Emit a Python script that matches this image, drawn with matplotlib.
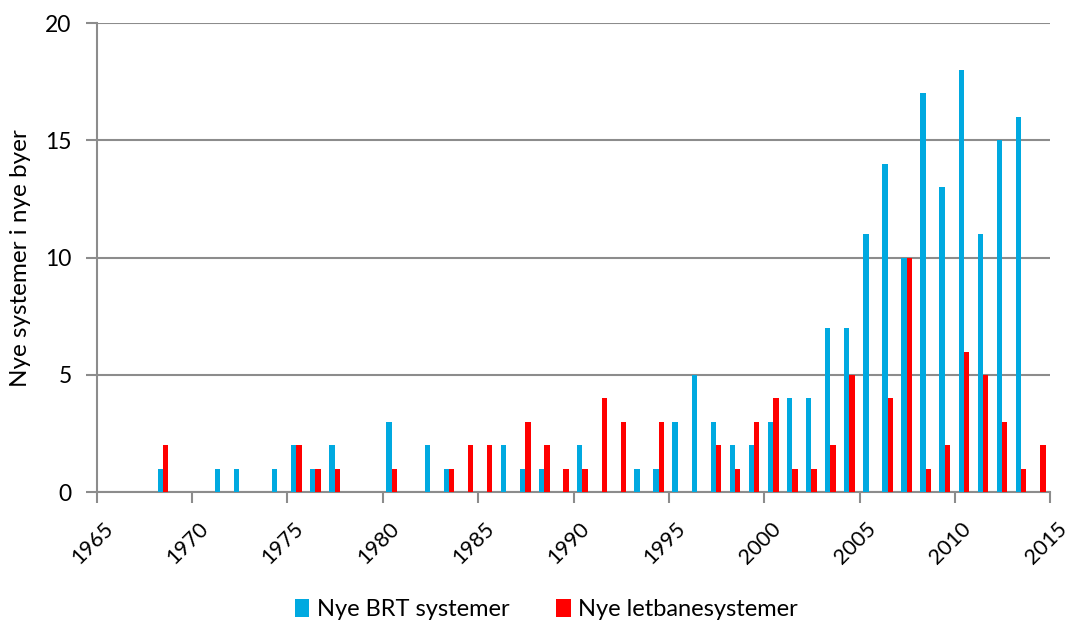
import matplotlib
matplotlib.use("Agg")
import matplotlib.pyplot as plt
from matplotlib.transforms import ScaledTranslation
import numpy as np

plt.rcParams['font.family'] = ['Lato', 'DejaVu Sans']

years = list(range(1965, 2015))
brt = {1968: 1, 1971: 1, 1972: 1, 1974: 1, 1975: 2, 1976: 1, 1977: 2, 1980: 3,
       1982: 2, 1983: 1, 1986: 2, 1987: 1, 1988: 1, 1990: 2, 1993: 1, 1994: 1,
       1995: 3, 1996: 5, 1997: 3, 1998: 2, 1999: 2, 2000: 3, 2001: 4, 2002: 4,
       2003: 7, 2004: 7, 2005: 11, 2006: 14, 2007: 10, 2008: 17, 2009: 13,
       2010: 18, 2011: 11, 2012: 15, 2013: 16}
letbane = {1968: 2, 1975: 2, 1976: 1, 1977: 1, 1980: 1, 1983: 1, 1984: 2, 1985: 2,
           1987: 3, 1988: 2, 1989: 1, 1990: 1, 1991: 4, 1992: 3, 1994: 3,
           1997: 2, 1998: 1, 1999: 3, 2000: 4, 2001: 1, 2002: 1, 2003: 2, 2004: 5,
           2006: 4, 2007: 10, 2008: 1, 2009: 2, 2010: 6, 2011: 5, 2012: 3,
           2013: 1, 2014: 2}
brt_values = [brt.get(y, 0) for y in years]
letbane_values = [letbane.get(y, 0) for y in years]
series_names = ["Nye BRT systemer", "Nye letbanesystemer"]
x_ticks = list(range(1965, 2016, 5))

blue = "#00A9E0"
red = "#FF0000"
grid = "#8C8C8C"

fig = plt.figure(figsize=(10.65, 6.23), dpi=100)
ax = fig.add_axes([0.0908, 0.2098, 0.9862 - 0.0908, 0.9629 - 0.2098])

x = np.array(years, dtype=float) + 0.47
w = 0.28
ax.bar(x - w / 2, brt_values, width=w, color=blue, label=series_names[0], zorder=3)
ax.bar(x + w / 2, letbane_values, width=w, color=red, label=series_names[1], zorder=3)

ax.set_xlim(1965, 2015)
ax.set_ylim(0, 20)
ax.set_yticks([0, 5, 10, 15, 20])
ax.set_xticks(x_ticks)
ax.tick_params(axis='y', labelsize=16.5, length=8, width=1.5, color=grid, pad=10)
ax.tick_params(axis='x', length=8, width=1.5, color=grid, pad=10)
ax.set_xticklabels([str(t) for t in x_ticks], rotation=45, ha='right',
                   rotation_mode='anchor', fontsize=15.5)
offset = ScaledTranslation(0.06, -0.01, fig.dpi_scale_trans)
for lab in ax.get_xticklabels():
    lab.set_transform(lab.get_transform() + offset)
ax.yaxis.grid(True, color=grid, linewidth=1.5, zorder=0)
ax.set_axisbelow(True)
for s in ['top', 'right']:
    ax.spines[s].set_visible(False)
for s in ['left', 'bottom']:
    ax.spines[s].set_color(grid)
    ax.spines[s].set_linewidth(1.5)

ax.set_ylabel("Nye systemer i nye byer", fontsize=17.5, labelpad=10)

fig.legend(loc='lower center', bbox_to_anchor=(0.513, -0.03), ncol=2, frameon=False,
           fontsize=17, handlelength=0.6, handleheight=0.8, handletextpad=0.3,
           columnspacing=2.0)

fig.savefig("out.png", dpi=100)
